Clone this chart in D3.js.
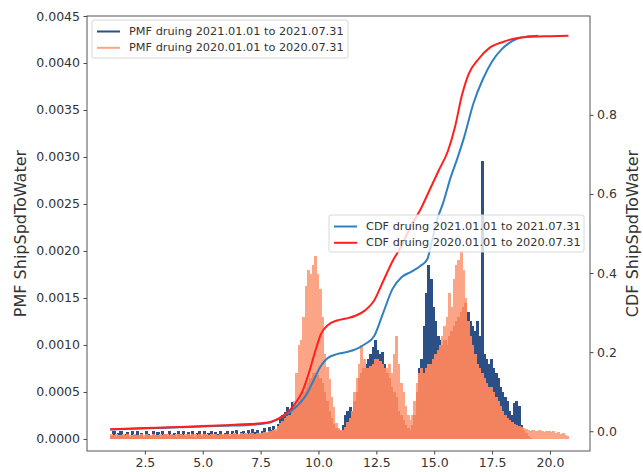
<!DOCTYPE html>
<html>
<head>
<meta charset="utf-8">
<script src="https://cdn.jsdelivr.net/npm/d3@7"></script>
<style>
  body { margin: 0; background: #fff; }
  text { font-family: "DejaVu Sans", sans-serif; fill: #333; }
</style>
</head>
<body>
<div id="data_viz"></div>
<script>
// PMF histograms, one bar per 0.1 knot, first bin starts at 1.0
const binStart = 1.0;
const binWidth = 0.1;
const pmfUnit = 1e-4; // values below are in units of 1e-4

// 2021.01.01 - 2021.07.31
const pmf2021 = [
  0.3,0.8,0.2,0.6,0.9,0.3,0.5,0.7,0.2,0.8,
  0.4,0.9,0.3,0.6,0.2,0.8,0.5,0.3,0.9,0.4,
  0.7,0.2,0.8,0.5,0.3,0.9,0.4,0.6,0.2,0.8,
  0.5,0.9,0.3,0.7,0.4,0.8,0.2,0.6,0.9,0.3,
  0.8,0.4,0.6,0.9,0.3,0.7,0.5,0.9,0.4,0.6,
  0.9,0.3,0.8,0.5,1.0,0.4,0.7,0.9,0.5,1.0,
  0.6,1.1,0.7,1.0,0.5,0.9,1.2,0.6,1.3,1.0,
  1.4,0.9,1.6,2.2,2.6,2.9,3.4,3.0,3.9,3.6,
  3.5,4.0,4.5,5.0,5.5,6.0,6.5,7.0,7.0,6.8,
  6.5,6.0,5.0,4.0,3.0,2.2,1.6,1.2,1.0,0.8,
  1.5,2.5,3.0,3.4,3.0,4.0,5.0,6.5,7.0,7.5,
  8.0,8.5,9.0,9.8,10.5,9.5,9.0,9.2,8.0,7.0,
  6.5,5.5,5.0,4.5,3.0,2.5,2.0,1.5,1.2,1.0,
  1.5,2.5,5.0,7.5,8.5,12.0,15.5,18.5,17.0,14.0,
  12.5,11.0,10.5,10.0,10.5,10.0,11.0,11.5,12.0,12.5,
  13.0,13.5,14.0,14.5,13.5,12.5,12.0,11.5,12.5,11.0,
  29.6,9.0,8.5,8.0,8.5,7.5,7.0,6.5,5.5,5.0,
  4.5,4.0,3.0,2.5,3.8,4.0,3.5,1.5,1.0,0.6,
  0.3,0.1,0,0,0,0,0,0,0,0,
  0,0,0,0,0,0,0,0
];

// 2020.01.01 - 2020.07.31
const pmf2020 = [
  0.5,0.4,0.5,0.4,0.4,0.5,0.4,0.5,0.4,0.4,
  0.5,0.4,0.4,0.5,0.4,0.5,0.4,0.4,0.5,0.4,
  0.4,0.5,0.4,0.5,0.5,0.4,0.5,0.4,0.5,0.5,
  0.5,0.4,0.5,0.5,0.4,0.5,0.5,0.4,0.5,0.5,
  0.5,0.5,0.4,0.5,0.5,0.5,0.4,0.5,0.5,0.5,
  0.5,0.5,0.5,0.6,0.5,0.5,0.6,0.5,0.6,0.5,
  0.6,0.6,0.5,0.6,0.6,0.6,0.7,0.7,0.8,0.9,
  1.0,1.1,1.4,1.7,1.9,2.2,2.4,2.6,3.0,4.0,
  7.0,10.0,10.5,13.0,16.3,18.0,17.5,18.5,19.5,17.6,
  16.0,13.0,9.0,7.7,6.4,4.5,3.4,1.7,1.2,1.0,
  1.0,1.3,1.8,2.2,3.0,5.0,6.5,8.0,10.0,8.5,
  7.5,7.5,7.8,8.0,8.5,8.5,8.3,8.0,7.5,7.5,
  8.0,7.0,9.0,11.0,8.0,6.0,5.0,3.5,2.5,2.0,
  2.5,4.0,6.0,7.0,7.5,7.0,7.5,8.0,8.0,8.5,
  9.0,9.5,10.0,11.0,12.0,13.0,15.5,14.0,17.0,18.5,
  19.0,20.0,18.0,15.0,12.5,11.0,10.0,9.0,8.0,7.5,
  7.0,6.5,6.0,5.5,5.5,5.0,4.5,4.0,3.5,3.0,
  2.5,2.2,2.0,1.8,1.6,1.5,1.4,1.3,1.2,1.1,
  1.0,0.9,1.0,0.8,0.9,1.0,0.8,0.7,0.9,0.8,
  0.7,0.8,0.6,0.7,0.5,0.6,0.4,0.3
];

// CDF curves
const cdf2021Speed = [1.0, 2, 3, 4, 5, 6, 7, 7.5, 8, 8.5, 9, 9.5, 9.8, 10.1, 10.4, 10.8, 11.2, 11.6, 12.0, 12.4, 12.8, 13.2, 13.6, 14.0, 14.4, 14.7, 14.9, 15.1, 15.4, 15.7, 16.0, 16.3, 16.7, 17.1, 17.5, 17.9, 18.2, 18.6, 19.0, 19.5];
const cdf2021Value = [0.004, 0.006, 0.008, 0.010, 0.012, 0.014, 0.016, 0.018, 0.024, 0.038, 0.06, 0.095, 0.13, 0.165, 0.185, 0.195, 0.200, 0.207, 0.220, 0.24, 0.30, 0.36, 0.39, 0.403, 0.418, 0.435, 0.48, 0.53, 0.58, 0.64, 0.69, 0.745, 0.83, 0.89, 0.935, 0.965, 0.98, 0.993, 0.998, 1.0];

const cdf2020Speed = [1.0, 2, 3, 4, 5, 6, 7, 7.5, 8, 8.5, 9, 9.3, 9.6, 9.9, 10.1, 10.4, 10.8, 11.2, 11.6, 12.0, 12.4, 12.8, 13.2, 13.6, 14.0, 14.4, 14.8, 15.2, 15.6, 15.9, 16.2, 16.5, 16.9, 17.4, 18.0, 18.5, 19.0, 20.0, 20.8];
const cdf2020Value = [0.005, 0.007, 0.009, 0.011, 0.013, 0.015, 0.018, 0.020, 0.025, 0.04, 0.07, 0.10, 0.15, 0.21, 0.245, 0.268, 0.28, 0.285, 0.292, 0.305, 0.33, 0.38, 0.43, 0.47, 0.52, 0.56, 0.61, 0.66, 0.71, 0.77, 0.85, 0.905, 0.94, 0.97, 0.985, 0.993, 0.997, 0.999, 1.0];

// tick labels
const xTicks = [2.5, 5.0, 7.5, 10.0, 12.5, 15.0, 17.5, 20.0];
const pmfTicks = [0, 0.0005, 0.001, 0.0015, 0.002, 0.0025, 0.003, 0.0035, 0.004, 0.0045];
const cdfTicks = [0, 0.2, 0.4, 0.6, 0.8];

const pmfLabels = ["PMF druing 2021.01.01 to 2021.07.31", "PMF druing 2020.01.01 to 2020.07.31"];
const cdfLabels = ["CDF druing 2021.01.01 to 2021.07.31", "CDF druing 2020.01.01 to 2020.07.31"];

const navy = "#2c4f85", lightSalmon = "#fca486", darkSalmon = "#f3835f";
const cdfBlue = "#2f7fc1", cdfRed = "#ff1f1f";

// set the dimensions and margins of the graph
const margin = { top: 16, right: 53, bottom: 21, left: 87 },
  width = 643 - margin.left - margin.right,
  height = 472 - margin.top - margin.bottom;

const svg = d3.select("#data_viz")
  .append("svg")
  .attr("width", 643)
  .attr("height", 472)
  .append("g")
  .attr("transform", `translate(${margin.left},${margin.top})`);

const x = d3.scaleLinear().domain([0, 21.73]).range([0, width]);
const yPmf = d3.scaleLinear().domain([-0.000128, 0.0045]).range([height, 0]);
const yCdf = d3.scaleLinear().domain([-0.05, 1.05]).range([height, 0]);

const bins = pmf2021.map((d, i) => ({
  x0: binStart + i * binWidth,
  a: d * pmfUnit,
  b: pmf2020[i] * pmfUnit
}));

const barW = x(binWidth) - x(0) + 0.8;

function bars(color, val) {
  svg.append("g")
    .attr("shape-rendering", "crispEdges")
    .selectAll("rect")
    .data(bins)
    .join("rect")
    .attr("x", d => x(d.x0))
    .attr("width", barW)
    .attr("y", d => yPmf(val(d)))
    .attr("height", d => yPmf(0) - yPmf(val(d)))
    .attr("fill", color);
}

// 2021 underneath, 2020 on top, overlap darker
bars(navy, d => d.a);
bars(lightSalmon, d => d.b);
bars(darkSalmon, d => Math.min(d.a, d.b));

// CDF lines
const line = d3.line()
  .x(d => x(d[0]))
  .y(d => yCdf(d[1]))
  .curve(d3.curveMonotoneX);

svg.append("path")
  .datum(cdf2021Speed.map((s, i) => [s, cdf2021Value[i]]))
  .attr("d", line)
  .attr("fill", "none")
  .attr("stroke", cdfBlue)
  .attr("stroke-width", 2);

svg.append("path")
  .datum(cdf2020Speed.map((s, i) => [s, cdf2020Value[i]]))
  .attr("d", line)
  .attr("fill", "none")
  .attr("stroke", cdfRed)
  .attr("stroke-width", 2);

// axes
const axFont = "12.5px";
const gx = svg.append("g")
  .attr("transform", `translate(0,${height})`)
  .call(d3.axisBottom(x).tickValues(xTicks).tickFormat(d3.format(".1f")).tickSize(3.5).tickPadding(3.5));
const gl = svg.append("g")
  .call(d3.axisLeft(yPmf).tickValues(pmfTicks).tickFormat(d3.format(".4f")).tickSize(3.5).tickPadding(3.5));
const gr = svg.append("g")
  .attr("transform", `translate(${width},0)`)
  .call(d3.axisRight(yCdf).tickValues(cdfTicks).tickFormat(d3.format(".1f")).tickSize(3.5).tickPadding(3.5));

[gx, gl, gr].forEach(g => {
  g.select(".domain").remove();
  g.selectAll("line").attr("stroke", "#444");
  g.selectAll("text").style("font-size", axFont).attr("fill", "#333");
});

// frame
svg.append("rect")
  .attr("width", width)
  .attr("height", height)
  .attr("fill", "none")
  .attr("stroke", "#555")
  .attr("stroke-width", 1);

// axis labels
svg.append("text")
  .attr("transform", `translate(${20 - margin.left},${height / 2}) rotate(-90)`)
  .attr("text-anchor", "middle")
  .attr("dominant-baseline", "central")
  .style("font-size", "16px")
  .text("PMF ShipSpdToWater");

svg.append("text")
  .attr("transform", `translate(${632 - margin.left},${height / 2}) rotate(-90)`)
  .attr("text-anchor", "middle")
  .attr("dominant-baseline", "central")
  .style("font-size", "16px")
  .text("CDF ShipSpdToWater");

// legends
function legend(bx, by, bw, bh, labels, colors) {
  const g = svg.append("g").attr("transform", `translate(${bx - margin.left},${by - margin.top})`);
  g.append("rect")
    .attr("width", bw).attr("height", bh)
    .attr("rx", 2)
    .attr("fill", "#fff").attr("fill-opacity", 0.8)
    .attr("stroke", "#d8d8d8");
  labels.forEach((t, i) => {
    const yy = 11.5 + i * 16.3;
    g.append("line")
      .attr("x1", 5).attr("x2", 28)
      .attr("y1", yy).attr("y2", yy)
      .attr("stroke", colors[i]).attr("stroke-width", 2);
    g.append("text")
      .attr("x", 37).attr("y", yy)
      .attr("dominant-baseline", "central")
      .style("font-size", "11.3px")
      .text(t);
  });
}

legend(92, 20, 256, 38, pmfLabels, [navy, lightSalmon]);
legend(329, 215, 255, 37, cdfLabels, [cdfBlue, cdfRed]);
</script>
</body>
</html>
